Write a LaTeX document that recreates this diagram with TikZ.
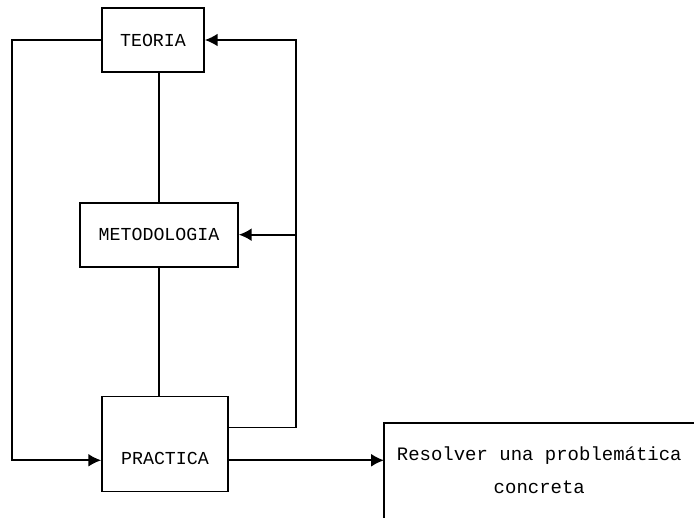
\documentclass[tikz,border=0pt]{standalone}
\usepackage{fontspec}
\setmonofont{Liberation Mono}
\usetikzlibrary{arrows.meta,positioning}
\tikzset{
  caja/.style = {
    rectangle,
    draw,
    line width=1.2pt,
    align=center,
    inner sep=0pt,
    font=\ttfamily\fontsize{13}{16}\selectfont
  },
  cajaresultado/.style = {
    rectangle,
    align=center,
    inner sep=0pt,
    minimum width=77.5mm,
    minimum height=23.5mm,
    font=\ttfamily\fontsize{13.5}{23}\selectfont
  },
  enlace/.style = {
    line width=1.2pt
  },
  flecha/.style = {
    line width=1.2pt,
    -{Latex[length=3.2mm,width=3.2mm]}
  }
}
\begin{document}
\begin{tikzpicture}
    \useasboundingbox (0,0) rectangle (17.35,-12.925);
    \node[caja, minimum width=25.5mm, minimum height=16mm] (teoria) at (3.825,-1.0) {TEORIA};
    \node[caja, minimum width=39.5mm, minimum height=16mm, below=32.25mm of teoria, xshift=1.5mm] (metodologia) {METODOLOGIA};
    \node[caja, minimum width=31.5mm, text height=17mm, text depth=6.75mm, below=32mm of metodologia, xshift=1.5mm] (practica) {PRACTICA};
    \node[cajaresultado, anchor=north west] (resultado) at (9.6,-10.575) {Resolver una problemática\\concreta};
    % lineas verticales del centro
    \draw[enlace] (metodologia.north) -- (metodologia.north |- teoria.south);
    \draw[enlace] (metodologia.south) -- (metodologia.south |- practica.north);
    % retorno izquierdo
    \draw[flecha] (teoria.west) -- ++(-2.225,0) |- ([yshift=-4.1mm]practica.west);
    % retorno derecho
    \path ([yshift=4.1mm]practica.east) -- ++(1.675,0) coordinate (esquina);
    \draw[flecha] ([yshift=4.1mm]practica.east) -- (esquina) |- (teoria.east);
    \draw[flecha] (esquina |- metodologia.east) -- (metodologia.east);
    % salida
    \draw[flecha] ([yshift=-4.1mm]practica.east) -- ([yshift=-4.1mm]practica.east -| resultado.west);
    \draw[enlace] (resultado.south west) |- (resultado.north east);
  \end{tikzpicture}
\end{document}
